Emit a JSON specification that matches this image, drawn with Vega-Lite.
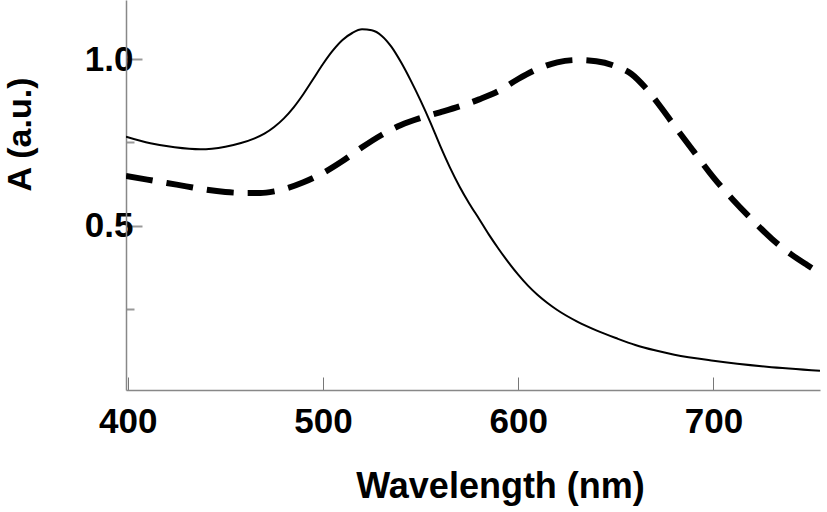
{
  "$schema": "https://vega.github.io/schema/vega-lite/v6.json",
  "autosize": "none",
  "width": 694,
  "height": 390,
  "padding": {"left": 126, "top": 0, "right": 7, "bottom": 122},
  "background": "white",
  "config": {"view": {"stroke": null}, "font": "Liberation Sans"},
  "datasets": {
    "solid": [
      {"wl": 399.1, "a": 0.767}, {"wl": 411.6, "a": 0.747}, {"wl": 424.0, "a": 0.735},
      {"wl": 437.2, "a": 0.729}, {"wl": 450.0, "a": 0.737}, {"wl": 458.0, "a": 0.748},
      {"wl": 465.0, "a": 0.762}, {"wl": 470.0, "a": 0.776}, {"wl": 475.0, "a": 0.796},
      {"wl": 480.0, "a": 0.822}, {"wl": 485.0, "a": 0.855}, {"wl": 490.0, "a": 0.895},
      {"wl": 495.0, "a": 0.940}, {"wl": 500.0, "a": 0.985}, {"wl": 505.0, "a": 1.025},
      {"wl": 510.0, "a": 1.057}, {"wl": 515.0, "a": 1.078}, {"wl": 520.0, "a": 1.089},
      {"wl": 525.0, "a": 1.086}, {"wl": 530.0, "a": 1.070}, {"wl": 535.0, "a": 1.037},
      {"wl": 540.0, "a": 0.990}, {"wl": 545.0, "a": 0.935}, {"wl": 550.0, "a": 0.875},
      {"wl": 555.0, "a": 0.810}, {"wl": 560.0, "a": 0.740}, {"wl": 565.0, "a": 0.675},
      {"wl": 570.0, "a": 0.617}, {"wl": 575.0, "a": 0.566}, {"wl": 580.0, "a": 0.520},
      {"wl": 585.0, "a": 0.473}, {"wl": 590.0, "a": 0.430}, {"wl": 595.0, "a": 0.390},
      {"wl": 600.0, "a": 0.353}, {"wl": 605.0, "a": 0.320}, {"wl": 610.0, "a": 0.292},
      {"wl": 615.0, "a": 0.268}, {"wl": 620.0, "a": 0.247}, {"wl": 630.0, "a": 0.213},
      {"wl": 640.0, "a": 0.186}, {"wl": 650.0, "a": 0.163}, {"wl": 660.0, "a": 0.142},
      {"wl": 670.0, "a": 0.126}, {"wl": 680.0, "a": 0.113}, {"wl": 700.0, "a": 0.095},
      {"wl": 727.3, "a": 0.077}, {"wl": 754.6, "a": 0.065}
    ],
    "dashed": [
      {"wl": 399.1, "a": 0.649}, {"wl": 410.0, "a": 0.638}, {"wl": 420.0, "a": 0.628},
      {"wl": 430.0, "a": 0.618}, {"wl": 440.0, "a": 0.608}, {"wl": 450.0, "a": 0.601},
      {"wl": 460.0, "a": 0.598}, {"wl": 468.0, "a": 0.598}, {"wl": 475.0, "a": 0.603},
      {"wl": 482.0, "a": 0.613}, {"wl": 490.0, "a": 0.630}, {"wl": 500.0, "a": 0.658},
      {"wl": 510.0, "a": 0.694}, {"wl": 520.0, "a": 0.735}, {"wl": 530.0, "a": 0.772},
      {"wl": 540.0, "a": 0.802}, {"wl": 550.0, "a": 0.823}, {"wl": 560.0, "a": 0.840},
      {"wl": 570.0, "a": 0.858}, {"wl": 580.0, "a": 0.879}, {"wl": 590.0, "a": 0.904},
      {"wl": 600.0, "a": 0.940}, {"wl": 610.0, "a": 0.970}, {"wl": 620.0, "a": 0.990},
      {"wl": 630.0, "a": 0.997}, {"wl": 640.0, "a": 0.993}, {"wl": 650.0, "a": 0.978},
      {"wl": 658.0, "a": 0.955}, {"wl": 665.0, "a": 0.915}, {"wl": 673.0, "a": 0.856},
      {"wl": 680.0, "a": 0.800}, {"wl": 690.0, "a": 0.722}, {"wl": 700.0, "a": 0.645},
      {"wl": 710.0, "a": 0.578}, {"wl": 720.0, "a": 0.517}, {"wl": 730.0, "a": 0.460},
      {"wl": 740.0, "a": 0.413}, {"wl": 748.0, "a": 0.382}, {"wl": 754.6, "a": 0.358}
    ]
  },
  "layer": [
    {
      "data": {"name": "solid"},
      "mark": {"type": "line", "interpolate": "monotone", "clip": true, "color": "black", "strokeWidth": 2},
      "encoding": {
        "x": {
          "field": "wl", "type": "quantitative",
          "scale": {"domain": [399.1, 754.6], "nice": false, "zero": false},
          "axis": {
            "values": [400, 500, 600, 700],
            "grid": false,
            "title": "Wavelength (nm)",
            "titleFont": "Liberation Sans", "titleFontSize": 36, "titleFontWeight": "bold", "titleColor": "black",
            "titleX": 374, "titleY": 107, "titleBaseline": "alphabetic", "titleAlign": "center",
            "labelFont": "Liberation Sans", "labelFontSize": 35, "labelFontWeight": "bold", "labelColor": "black",
            "labelDx": 5, "labelPadding": 27, "labelFlush": false, "labelOverlap": false,
            "domainColor": "#888888", "domainWidth": 1.5,
            "tickColor": "#777777", "tickSize": -13, "tickWidth": 1
          }
        },
        "y": {
          "field": "a", "type": "quantitative",
          "scale": {"domain": [0.007, 1.177], "nice": false, "zero": false},
          "axis": {
            "values": [0.25, 0.5, 0.75, 1.0],
            "grid": false,
            "labelExpr": "datum.value == 0.5 || datum.value == 1 ? format(datum.value, '.1f') : ''",
            "title": "A (a.u.)",
            "titleFont": "Liberation Sans", "titleFontSize": 34, "titleFontWeight": "bold", "titleColor": "black",
            "titleAngle": -90, "titleX": -106, "titleY": 134, "titleAlign": "center", "titleBaseline": "middle",
            "labelFont": "Liberation Sans", "labelFontSize": 35, "labelFontWeight": "bold", "labelColor": "black",
            "labelPadding": 9, "labelDy": -7, "labelFlush": false, "labelOverlap": false,
            "domainColor": "#888888", "domainWidth": 1.5,
            "tickColor": "#999999", "tickWidth": 2,
            "tickSize": {"condition": {"test": "datum.value == 0.5 || datum.value == 1", "value": -16}, "value": -8}
          }
        }
      }
    },
    {
      "data": {"name": "dashed"},
      "mark": {"type": "line", "interpolate": "monotone", "clip": true, "color": "black", "strokeWidth": 6, "strokeDash": [27, 14]},
      "encoding": {
        "x": {"field": "wl", "type": "quantitative"},
        "y": {"field": "a", "type": "quantitative"}
      }
    }
  ]
}
